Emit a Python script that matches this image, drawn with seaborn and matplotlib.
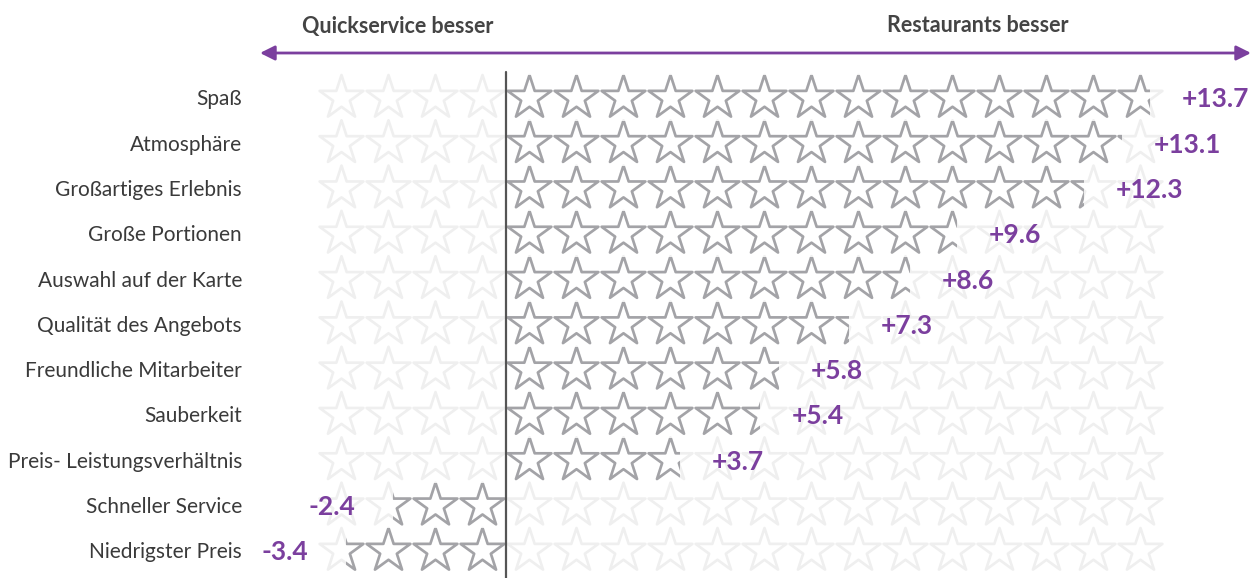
import pandas as pd
import matplotlib.pyplot as plt
import numpy as np
import seaborn as sns
from matplotlib.patches import Rectangle

categories = ["Spaß", "Atmosphäre", "Großartiges Erlebnis", "Große Portionen",
              "Auswahl auf der Karte", "Qualität des Angebots", "Freundliche Mitarbeiter",
              "Sauberkeit", "Preis- Leistungsverhältnis", "Schneller Service", "Niedrigster Preis"]
values = [13.7, 13.1, 12.3, 9.6, 8.6, 7.3, 5.8, 5.4, 3.7, -2.4, -3.4]
gridMin = -4
gridMax = 14
leftHeader = "Quickservice besser"
rightHeader = "Restaurants besser"

sns.set_style("white")
plt.rcParams['font.family'] = ['Lato', 'DejaVu Sans']

fig = plt.figure(figsize=(12.53, 5.78), dpi=100)
ax = fig.add_axes([0, 0, 1, 1])

# pixel layout -> data units (0 at 506px, one star = 47px, rows 45.3px apart)
unit = 47.0
rowH = 45.3
ax.set_xlim(-506 / unit, (1253 - 506) / unit)
ax.set_ylim((578 - 98) / rowH, -98 / rowH)
ax.axis("off")

starColor = "#a3a3a7"
bgColor = "#efefef"
purple = "#7b3f9e"
starSize = 1100
lw = 1.9

# background stars
bg = pd.DataFrame([(k + 0.5, i) for i in range(len(categories)) for k in range(gridMin, gridMax)],
                  columns=["x", "row"])
sns.scatterplot(data=bg, x="x", y="row", marker="*", s=starSize, facecolor="none",
                edgecolor=bgColor, linewidth=lw, ax=ax, legend=False, zorder=1)

# foreground stars clipped to the value
for i, v in enumerate(values):
    n = int(np.ceil(abs(v)))
    xs = [np.sign(v) * (k + 0.5) for k in range(n)]
    df = pd.DataFrame({"x": xs, "row": [i] * n})
    sns.scatterplot(data=df, x="x", y="row", marker="*", s=starSize, facecolor="none",
                    edgecolor=starColor, linewidth=lw, ax=ax, legend=False, zorder=2)
    clip = Rectangle((min(0, v), i - 0.5), abs(v), 1, transform=ax.transData)
    ax.collections[-1].set_clip_path(clip)

    if v > 0:
        ax.text(v + 0.68, i + 0.03, f"+{v:.1f}", ha="left", va="center", color=purple,
                fontsize=19, fontweight="bold")
    else:
        ax.text(v - 0.8, i + 0.03, f"{v:.1f}", ha="right", va="center", color=purple,
                fontsize=19, fontweight="bold")

    ax.text(-264 / unit, i + 0.03, categories[i], ha="right", va="center", color="#3a3a3a",
            fontsize=15, fontweight="normal")

# zero line
ax.plot([0, 0], [(72 - 98) / rowH, (578 - 98) / rowH], color="#555555", lw=1.6, zorder=3)

# arrow and headers
yArrow = (53 - 98) / rowH
ax.annotate("", xy=(-(506 - 260) / unit, yArrow), xytext=((1251 - 506) / unit, yArrow),
            arrowprops=dict(arrowstyle="<|-|>", color=purple, lw=2, mutation_scale=22,
                            shrinkA=0, shrinkB=0))
yHead = (26 - 98) / rowH
ax.text((398 - 506) / unit, yHead, leftHeader, ha="center", va="center", color="#444444",
        fontsize=15.5, fontweight="bold")
ax.text((978 - 506) / unit, yHead, rightHeader, ha="center", va="center", color="#444444",
        fontsize=15.5, fontweight="bold")

fig.savefig("out.png", dpi=100)
